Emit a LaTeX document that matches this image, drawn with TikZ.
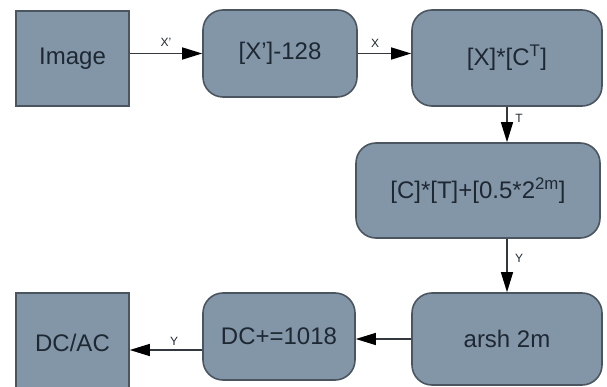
\documentclass[tikz,border=0pt]{standalone}
\usepackage{fontspec}
\setmainfont{Liberation Sans}
\usetikzlibrary{arrows.meta}
\definecolor{boxfill}{HTML}{8396A8}
\definecolor{boxline}{HTML}{4A5560}
\definecolor{txt}{HTML}{1E2833}
\definecolor{conn}{HTML}{33383E}
\tikzset{
  blk/.style={draw=boxline, line width=1.6pt, fill=boxfill, text=txt,
    font=\fontsize{24}{28}\selectfont, inner sep=0pt, anchor=center},
  rblk/.style={blk, rounded corners=20pt},
  conarrow/.style={draw=conn, line width=1.3pt, -{Triangle[length=20pt,width=12pt,color=black]}},
  lab/.style={font=\fontsize{12}{14}\selectfont, text=txt, inner sep=0pt}
}
\begin{document}
\begin{tikzpicture}[x=1pt,y=-1pt]
\useasboundingbox (0,0) rectangle (607,387);
\node[blk,  minimum width=113pt, minimum height=95pt] (img)  at (72.5,58.5) {Image};
\node[rblk, minimum width=154pt, minimum height=87pt] (sub)  at (280,53.5) {[X’]-128};
\node[rblk, minimum width=190pt, minimum height=96pt] (mul)  at (507,58) {[X]*[C\textsuperscript{T}]};
\node[rblk, minimum width=244pt, minimum height=95pt] (ct)   at (478,190.5) {[C]*[T]+[0.5*2\textsuperscript{2m}]};
\node[rblk, minimum width=190pt, minimum height=92pt] (arsh) at (507,339) {arsh 2m};
\node[rblk, minimum width=152pt, minimum height=87pt] (dc)   at (279,336.5) {DC+=1018};
\node[blk,  minimum width=113pt, minimum height=100pt] (dcac) at (72.5,343) {DC/AC};
\coordinate (dcout) at ([yshift=-13.5pt]dc.west);
\draw[conarrow] (img.east |- sub.west) -- (sub.west);
\draw[conarrow] (sub.east) -- (sub.east -| mul.west);
\draw[conarrow] (mul.south) -- (mul.south |- ct.north);
\draw[conarrow] (arsh.north |- ct.south) -- (arsh.north);
\draw[conarrow] (arsh.west) -- (arsh.west -| dc.east);
\draw[conarrow] (dcout) -- (dcout -| dcac.east);
\node[lab] (l1) at (166,42) {X’};
\node[lab] (l2) at (375,43) {X};
\node[lab] (l3) at (519,118) {T};
\node[lab] (l4) at (519,258) {Y};
\node[lab] (l5) at (174,341) {Y};
\end{tikzpicture}
\end{document}
